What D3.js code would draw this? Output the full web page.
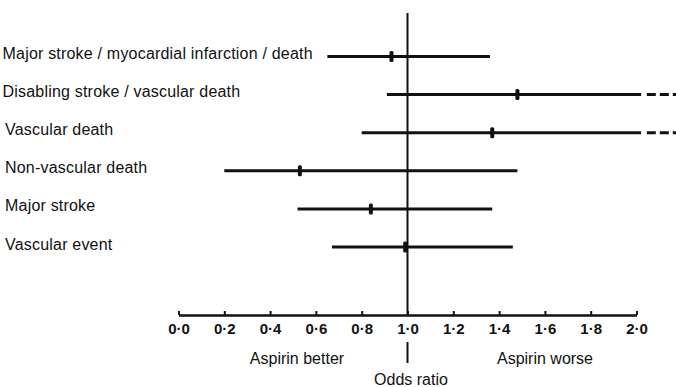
<!DOCTYPE html>
<html>
<head>
<meta charset="utf-8">
<script src="https://cdn.jsdelivr.net/npm/d3@7"></script>
<style>
  body { margin: 0; background: #fff; }
  svg { display: block; }
  text { font-family: "Liberation Sans", Arial, sans-serif; fill: #111; }
</style>
</head>
<body>
<svg id="chart"></svg>
<script>
// outcomes, top to bottom
let outcomes = [
  'Major stroke / myocardial infarction / death',
  'Disabling stroke / vascular death',
  'Vascular death',
  'Non-vascular death',
  'Major stroke',
  'Vascular event'
];
// odds ratio point estimates and confidence limits
let oddsRatio = [0.93, 1.48, 1.37, 0.53, 0.84, 0.99];
let lower = [0.65, 0.91, 0.80, 0.20, 0.52, 0.67];
let upper = [1.36, 2.0, 2.0, 1.48, 1.37, 1.46];
// upper limit runs off the scale (drawn dashed)
let offScale = [false, true, true, false, false, false];
let ticks = [0, 0.2, 0.4, 0.6, 0.8, 1.0, 1.2, 1.4, 1.6, 1.8, 2.0];

let width = 676;
let height = 387;
let ink = '#111';

let svg = d3.select('#chart').attr('width', width).attr('height', height);

// 0.0 -> 178.5px, 2.0 -> 636.5px
let xScale = d3.scaleLinear().domain([0, 2]).range([178.5, 636.5]);
let yScale = d3.scalePoint().domain(outcomes).range([56.5, 247]);
let axisY = 315;

// the axis, ticks pointing up
let xAxis = d3.axisBottom(xScale).tickValues(ticks).tickSize(0).tickSizeOuter(0)
  .tickFormat((d) => d3.format('.1f')(d).replace('.', '\u00b7'));
let gx = svg.append('g').attr('transform', 'translate(0, ' + axisY + ')').call(xAxis);
gx.select('.domain').attr('stroke', ink).attr('stroke-width', 2.5);
gx.selectAll('.tick line').attr('y2', -4).attr('stroke', ink).attr('stroke-width', 2);
gx.selectAll('.tick text')
  .attr('y', 8).attr('dy', '0.71em')
  .style('font-size', '15px').style('font-weight', 'bold')
  .attr('fill', ink);

// line of no effect
svg.append('line')
  .attr('x1', xScale(1)).attr('x2', xScale(1))
  .attr('y1', 13).attr('y2', axisY)
  .attr('stroke', ink).attr('stroke-width', 2);
svg.append('line')
  .attr('x1', xScale(1)).attr('x2', xScale(1))
  .attr('y1', 342).attr('y2', 363)
  .attr('stroke', ink).attr('stroke-width', 2);

let rows = outcomes.map((name, i) => ({ name: name, or: oddsRatio[i], lo: lower[i], hi: upper[i], off: offScale[i] }));

let g = svg.selectAll('.row').data(rows).enter().append('g').classed('row', true);

// labels
g.append('text')
  .attr('x', (d, i) => (i < 2 ? 2.5 : 5))
  .attr('y', (d) => yScale(d.name) + 2.5)
  .style('font-size', '16px')
  .style('letter-spacing', '0.2px')
  .text((d) => d.name);

// confidence intervals
g.append('line')
  .attr('x1', (d) => xScale(d.lo))
  .attr('x2', (d) => (d.off ? xScale(2.02) : xScale(d.hi)))
  .attr('y1', (d) => yScale(d.name))
  .attr('y2', (d) => yScale(d.name))
  .attr('stroke', ink).attr('stroke-width', 3);

// dashed continuation past 2.0
g.filter((d) => d.off).append('line')
  .attr('x1', xScale(2.045)).attr('x2', xScale(2.2))
  .attr('y1', (d) => yScale(d.name))
  .attr('y2', (d) => yScale(d.name))
  .attr('stroke', ink).attr('stroke-width', 3)
  .attr('stroke-dasharray', '9,4');

// point estimates
g.append('rect')
  .attr('x', (d) => xScale(d.or) - 2)
  .attr('y', (d) => yScale(d.name) - 5.5)
  .attr('width', 4).attr('height', 11)
  .attr('rx', 1.5)
  .attr('fill', ink);

// direction labels
svg.append('text').attr('x', 297).attr('y', 364).style('text-anchor', 'middle').style('font-size', '16px').text('Aspirin better');
svg.append('text').attr('x', 545).attr('y', 364).style('text-anchor', 'middle').style('font-size', '16px').text('Aspirin worse');
svg.append('text').attr('x', 411).attr('y', 385).style('text-anchor', 'middle').style('font-size', '16px').text('Odds ratio');
</script>
</body>
</html>
